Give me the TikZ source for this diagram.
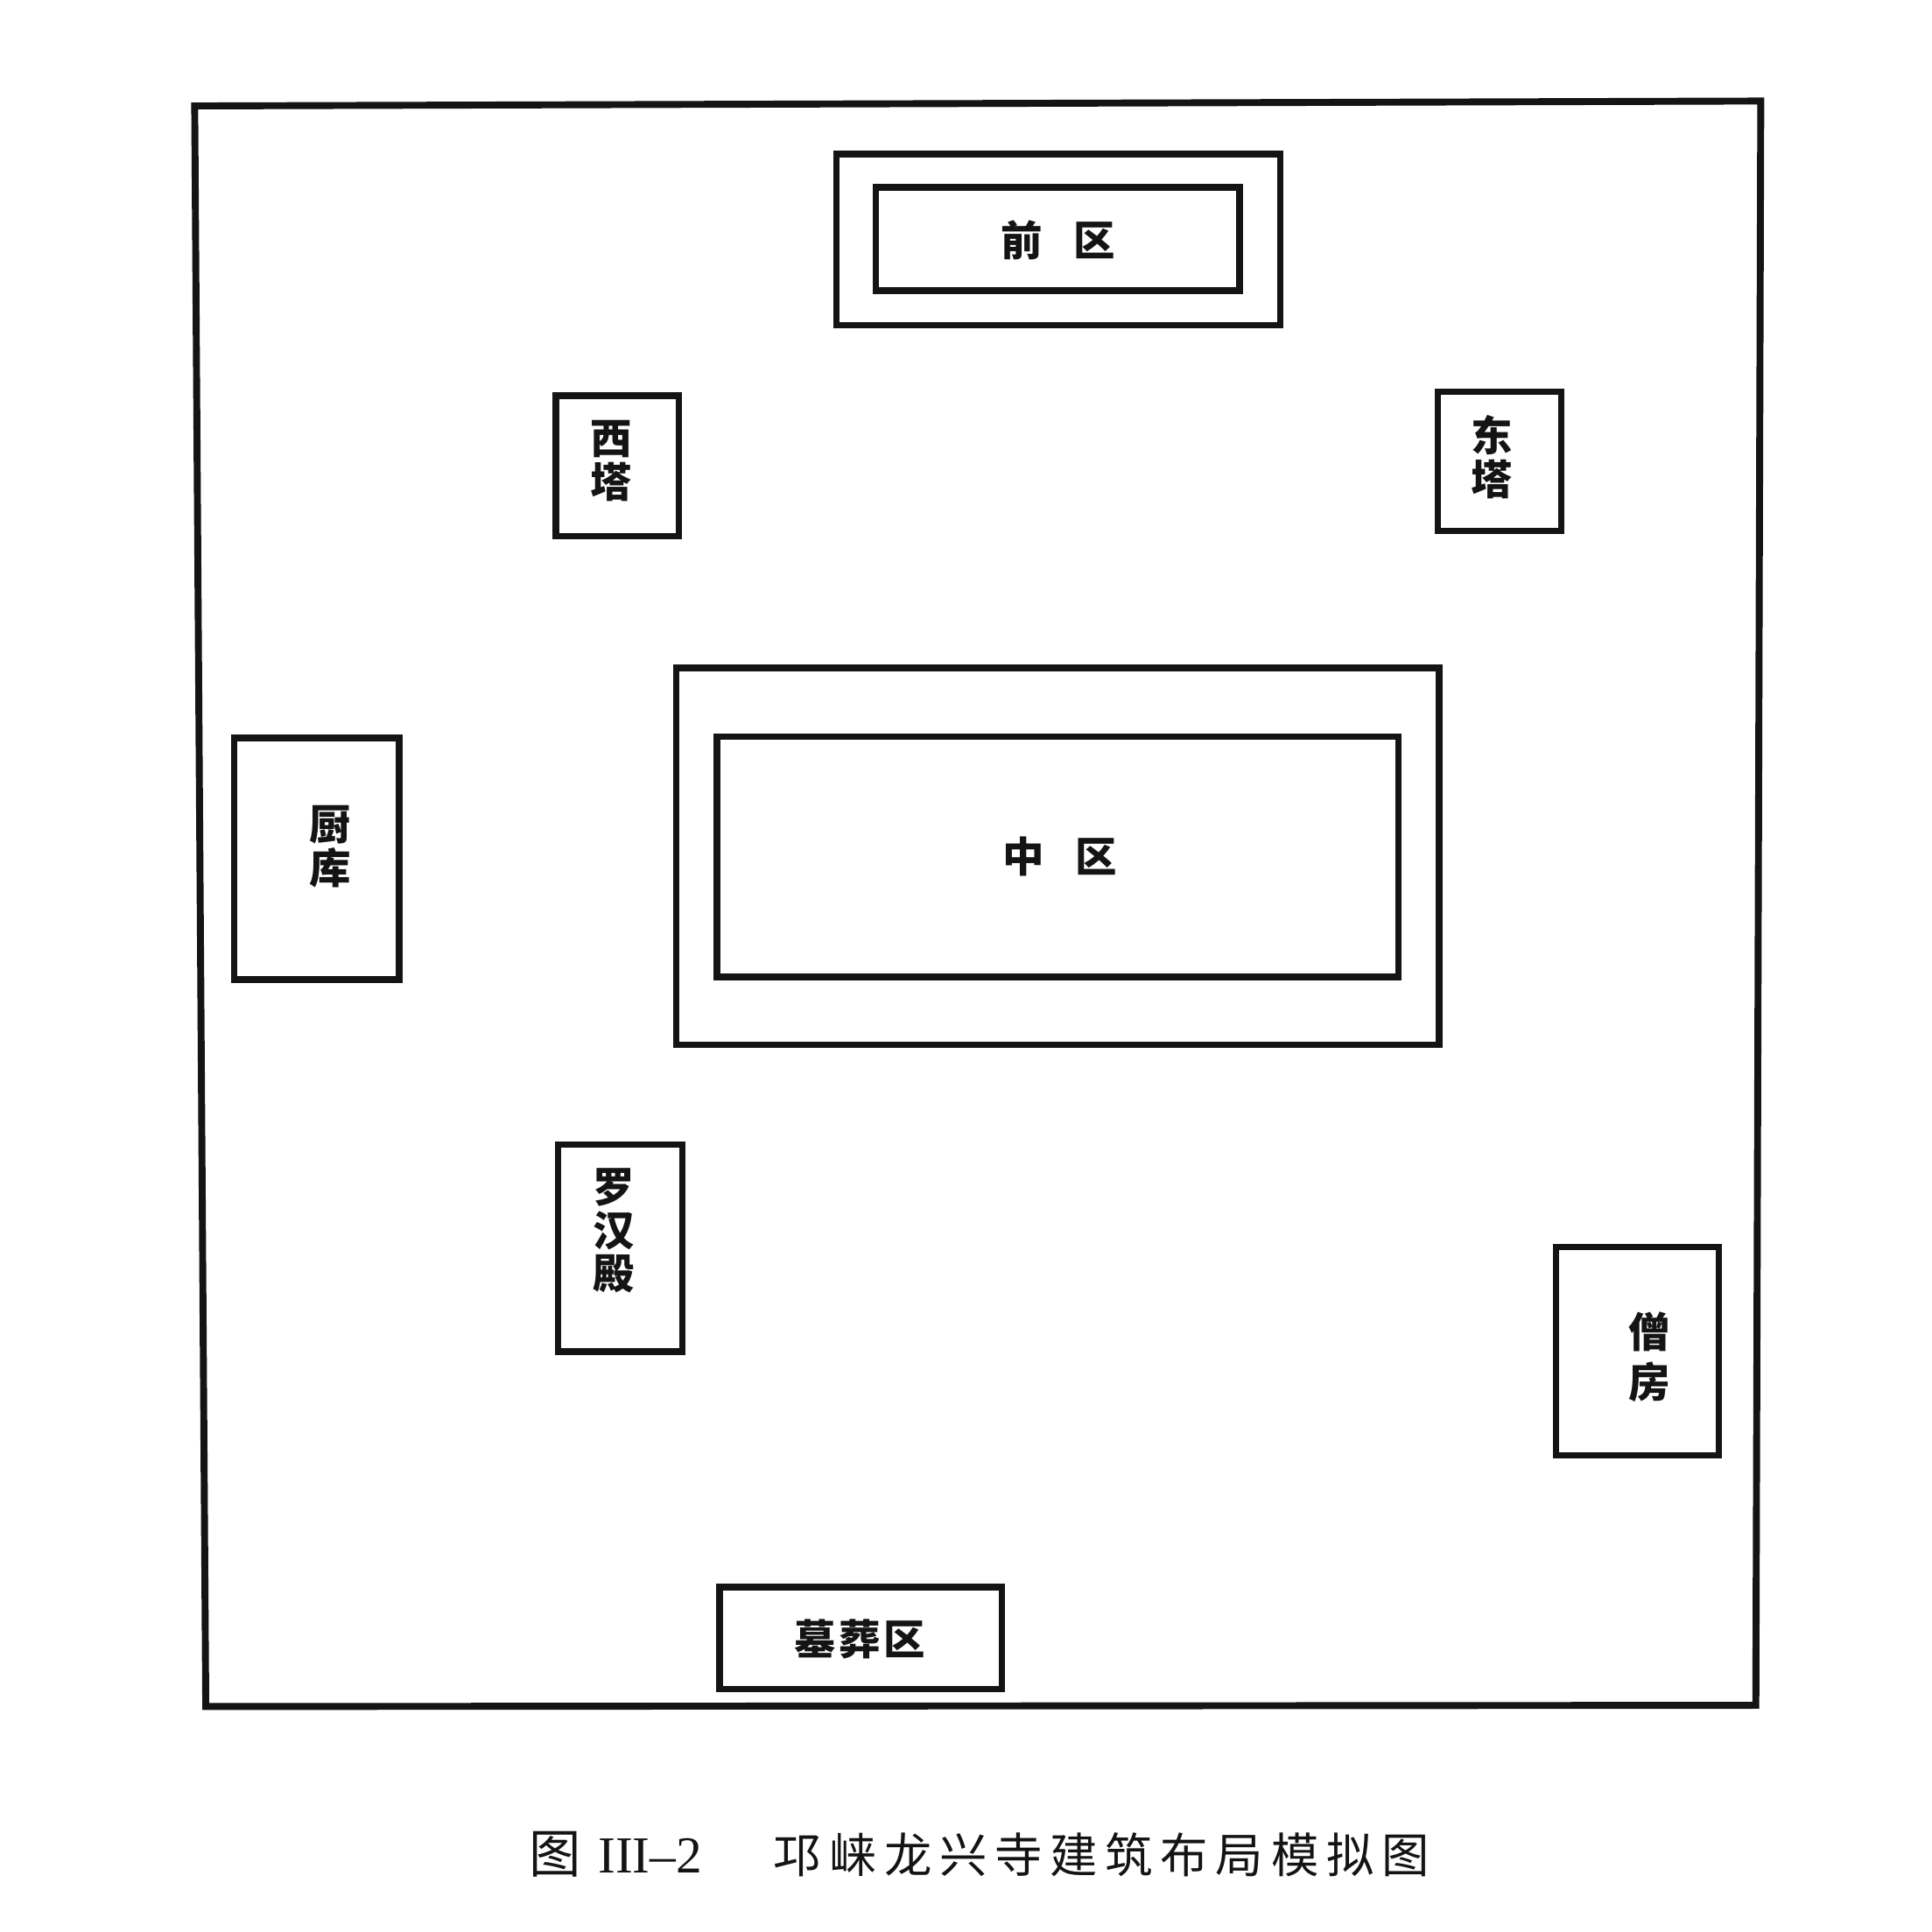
\documentclass[tikz,border=0pt]{standalone}
\usepackage{fontspec}
\usetikzlibrary{positioning}
\setmainfont{Liberation Serif}
\newfontfamily\cjk{Noto Sans CJK SC}
\definecolor{ink}{gray}{0.08}
\tikzset{
    areabox/.style={rectangle, draw=ink, line width=1.5pt},
    arealabel/.style={inner sep=0pt, align=center, text=ink, font=\cjk\bfseries\fontsize{9.6}{10}\selectfont},
    captext/.style={inner sep=0pt, text=ink}
}
\begin{document}
\begin{tikzpicture}
        \useasboundingbox (0,0) rectangle (15.68,-15.68);
        \fill[white] (0,0) rectangle (15.68,-15.68);
        % Umfassung
        \draw[draw=ink, line width=1.6pt] (1.58,-0.86) -- (14.29,-0.82) -- (14.25,-13.84) -- (1.67,-13.85) -- cycle;
        % Qianqu
        \node at (8.59,-1.945) [areabox, minimum width=3.6cm, minimum height=1.39cm] (qianout) {};
        \node at (8.585,-1.94) [areabox, minimum width=2.95cm, minimum height=0.84cm] (qianin) {};
        \node at (8.59,-1.95) [arealabel] (qianlabel) {前\hspace{2.5mm}区};
        % Xita
        \node at (5.01,-3.78) [areabox, minimum width=1cm, minimum height=1.14cm] (xita) {};
        \node at (4.96,-3.74) [arealabel] (xitalabel) {西\\塔};
        % Dongta
        \node at (12.17,-3.745) [areabox, minimum width=1cm, minimum height=1.13cm] (dongta) {};
        \node at (12.11,-3.71) [arealabel] (dongtalabel) {东\\塔};
        % Zhongqu
        \node at (8.585,-6.95) [areabox, minimum width=6.19cm, minimum height=3.06cm] (zhongout) {};
        \node at (8.585,-6.955) [areabox, minimum width=5.53cm, minimum height=1.95cm] (zhongin) {};
        \node at (8.60,-6.95) [arealabel] (zhonglabel) {中\hspace{2.5mm}区};
        % Chuku
        \node at (2.57,-6.97) [areabox, minimum width=1.34cm, minimum height=1.96cm] (chuku) {};
        \node at (2.68,-6.87) [arealabel] (chukulabel) {厨\\库};
        % Luohandian
        \node at (5.035,-10.13) [areabox, minimum width=1.01cm, minimum height=1.68cm] (luohan) {};
        \node at (4.98,-9.99) [arealabel] (luohanlabel) {罗\\汉\\殿};
        % Sengfang
        \node at (13.29,-10.965) [areabox, minimum width=1.32cm, minimum height=1.69cm] (sengfang) {};
        \node at (13.39,-11.015) [arealabel] (sengfanglabel) {僧\\[1.6pt]房};
        % Muzangqu
        \node at (6.985,-13.295) [areabox, minimum width=2.29cm, minimum height=0.83cm] (muzang) {};
        \node at (6.98,-13.3) [arealabel] (muzanglabel) {墓\hspace{0.25mm}葬\hspace{0.25mm}区};
        % Bildunterschrift
        \node at (4.995,-15.05) [captext, font=\fontsize{12}{12}\selectfont] (capnum) {{\cjk 图}\hspace{1.4mm}III--2};
        \node at (8.94,-15.05) [captext, font=\cjk\addfontfeature{LetterSpace=16}\fontsize{11}{11}\selectfont] (captitle) {邛崃龙兴寺建筑布局模拟图};
    \end{tikzpicture}
\end{document}
